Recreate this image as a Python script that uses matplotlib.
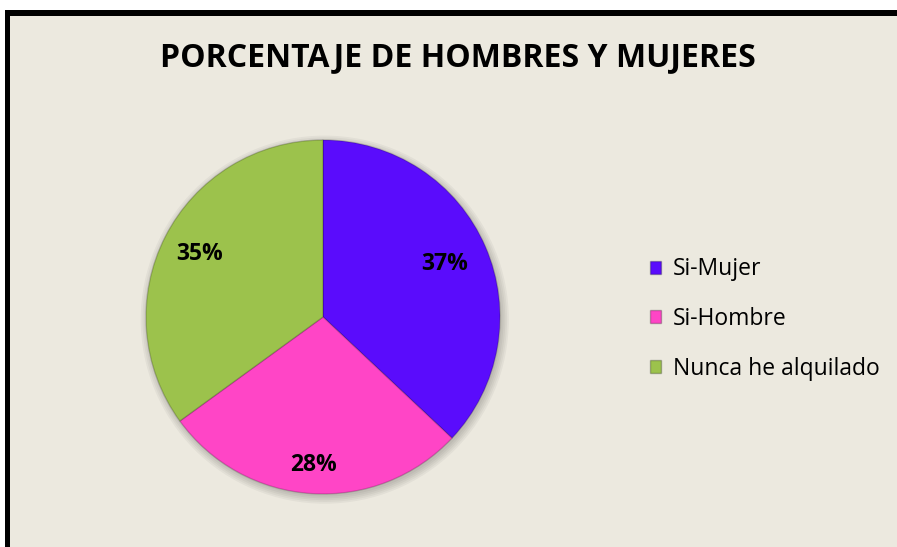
import matplotlib.pyplot as plt
import numpy as np
from matplotlib.patches import Rectangle, Circle

# data
categories = ['Si-Mujer', 'Si-Hombre', 'Nunca he alquilado']
shares = [37, 28, 35]
colors = ['#5A0CFC', '#FF45C6', '#9CC24C']
title = 'PORCENTAJE DE HOMBRES Y MUJERES'

W, H = 897, 547
fig = plt.figure(figsize=(W / 100, H / 100), dpi=100)
fig.patch.set_facecolor('white')

# chart area background and black border (top + left)
fig.patches.append(Rectangle((5 / W, 0), 1, (H - 10) / H, transform=fig.transFigure,
                             facecolor='#ECE9DF', edgecolor='none', zorder=-2))
fig.patches.append(Rectangle((5 / W, (H - 16) / H), 1, 6 / H, transform=fig.transFigure,
                             facecolor='black', edgecolor='none', zorder=-1))
fig.patches.append(Rectangle((5 / W, 0), 5 / W, (H - 10) / H, transform=fig.transFigure,
                             facecolor='black', edgecolor='none', zorder=-1))

fig.text(458 / W, 1 - 58 / H, title, ha='center', va='center',
         fontsize=23, fontweight='bold', family='Open Sans')

ax = fig.add_axes([146 / W, (H - 494) / H, 354 / W, 354 / H])
ax.set_facecolor('none')

# soft shadow under the pie
for k in range(5):
    ax.add_patch(Circle((0.01, -0.015), 1.0 + 0.01 * k, facecolor='black',
                        alpha=0.04, edgecolor='none', zorder=0, clip_on=False))

wedges, texts, autotexts = ax.pie(shares, colors=colors, startangle=90, counterclock=False,
                                  autopct='%1.0f%%', pctdistance=0.78,
                                  wedgeprops=dict(edgecolor='#00000030', linewidth=1.0, zorder=2),
                                  textprops=dict(fontsize=16.5, fontweight='bold', family='Open Sans'))
for t in autotexts:
    t.set_zorder(5)
ax.set_xlim(-1, 1)
ax.set_ylim(-1, 1)
ax.set_aspect('equal')

# label distances per slice
dists = [0.75, 0.84, 0.78]
for w, t, d in zip(wedges, autotexts, dists):
    ang = np.deg2rad((w.theta1 + w.theta2) / 2)
    t.set_position((d * np.cos(ang), d * np.sin(ang)))

handles = [Rectangle((0, 0), 1, 1, facecolor=c, edgecolor='#00000040') for c in colors]
fig.legend(handles, categories, loc='center left', bbox_to_anchor=(629 / W, 1 - 319 / H),
           frameon=False, handlelength=0.5, handleheight=0.5,
           handletextpad=0.5, labelspacing=1.12, prop=dict(family='Open Sans', size=16.5))

fig.savefig('out.png', dpi=100)
